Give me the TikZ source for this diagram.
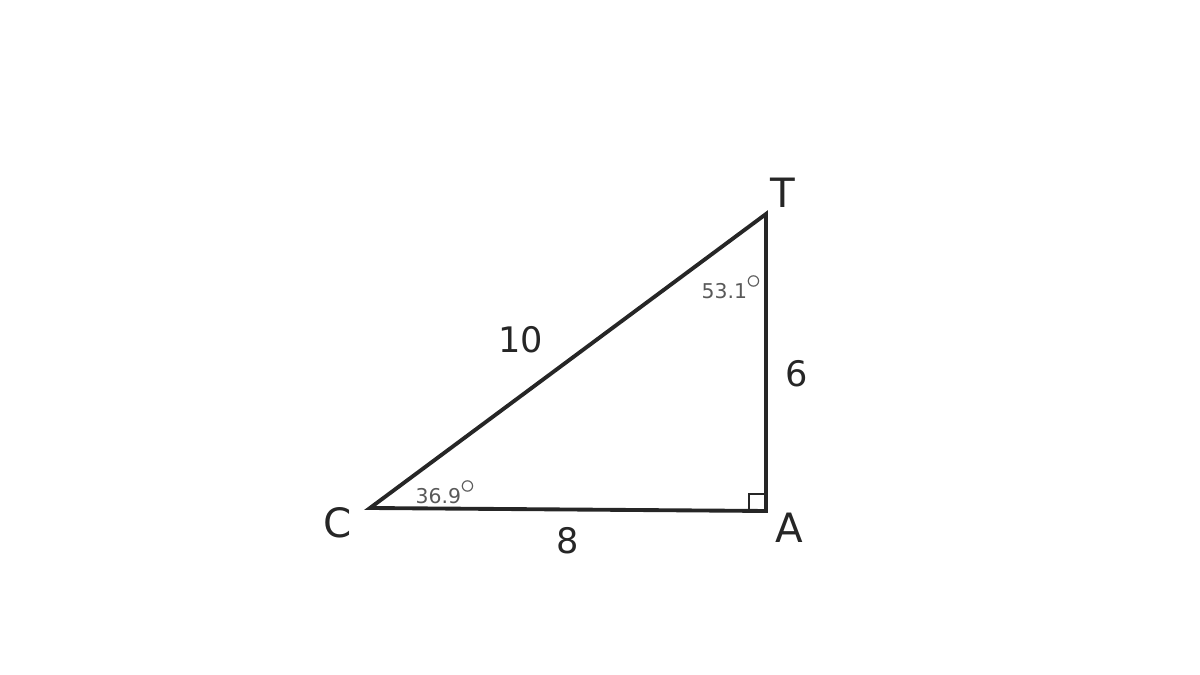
\documentclass[tikz,border=0pt]{standalone}
\usepackage{fontspec}
\setmainfont{DejaVu Sans}
\usetikzlibrary{calc}
\begin{document}
\begin{tikzpicture}[x=1cm,y=1cm,
  side/.style={draw=black!85,line width=1.1pt,line join=miter},
  vlabel/.style={text=black!85,font=\fontsize{11.5}{13}\selectfont,inner sep=0pt},
  slabel/.style={text=black!85,font=\fontsize{10}{12}\selectfont,inner sep=0pt},
  alabel/.style={text=black!65,font=\fontsize{5.8}{7}\selectfont,inner sep=0pt}]
\useasboundingbox (0,0) rectangle (12,6.75);
\coordinate (C) at (3.70,1.67);
\coordinate (A) at (7.66,1.64);
\coordinate (T) at (7.66,4.61);
\draw[side] (C) -- (A) -- (T) -- cycle;
\draw[draw=black!85,line width=0.7pt] ($(A)+(-0.17,0)$) |- ($(A)+(0,0.17)$);
\node[vlabel] (lT) at (7.83,4.82) {T};
\node[vlabel] (lC) at (3.38,1.52) {C};
\node[vlabel] (lA) at (7.89,1.47) {A};
\node[slabel] (s10) at (5.21,3.35) {10};
\node[slabel] (s6) at (7.97,3.01) {6};
\node[slabel] (s8) at (5.68,1.34) {8};
\node[alabel,anchor=west] (aT) at (7.01,3.88) {53.1\kern-0.3pt\raisebox{0.9ex}{\fontsize{8}{8}\selectfont$\circ$}};
\node[alabel,anchor=west] (aC) at (4.15,1.83) {36.9\kern-0.3pt\raisebox{0.9ex}{\fontsize{8}{8}\selectfont$\circ$}};
\end{tikzpicture}
\end{document}
